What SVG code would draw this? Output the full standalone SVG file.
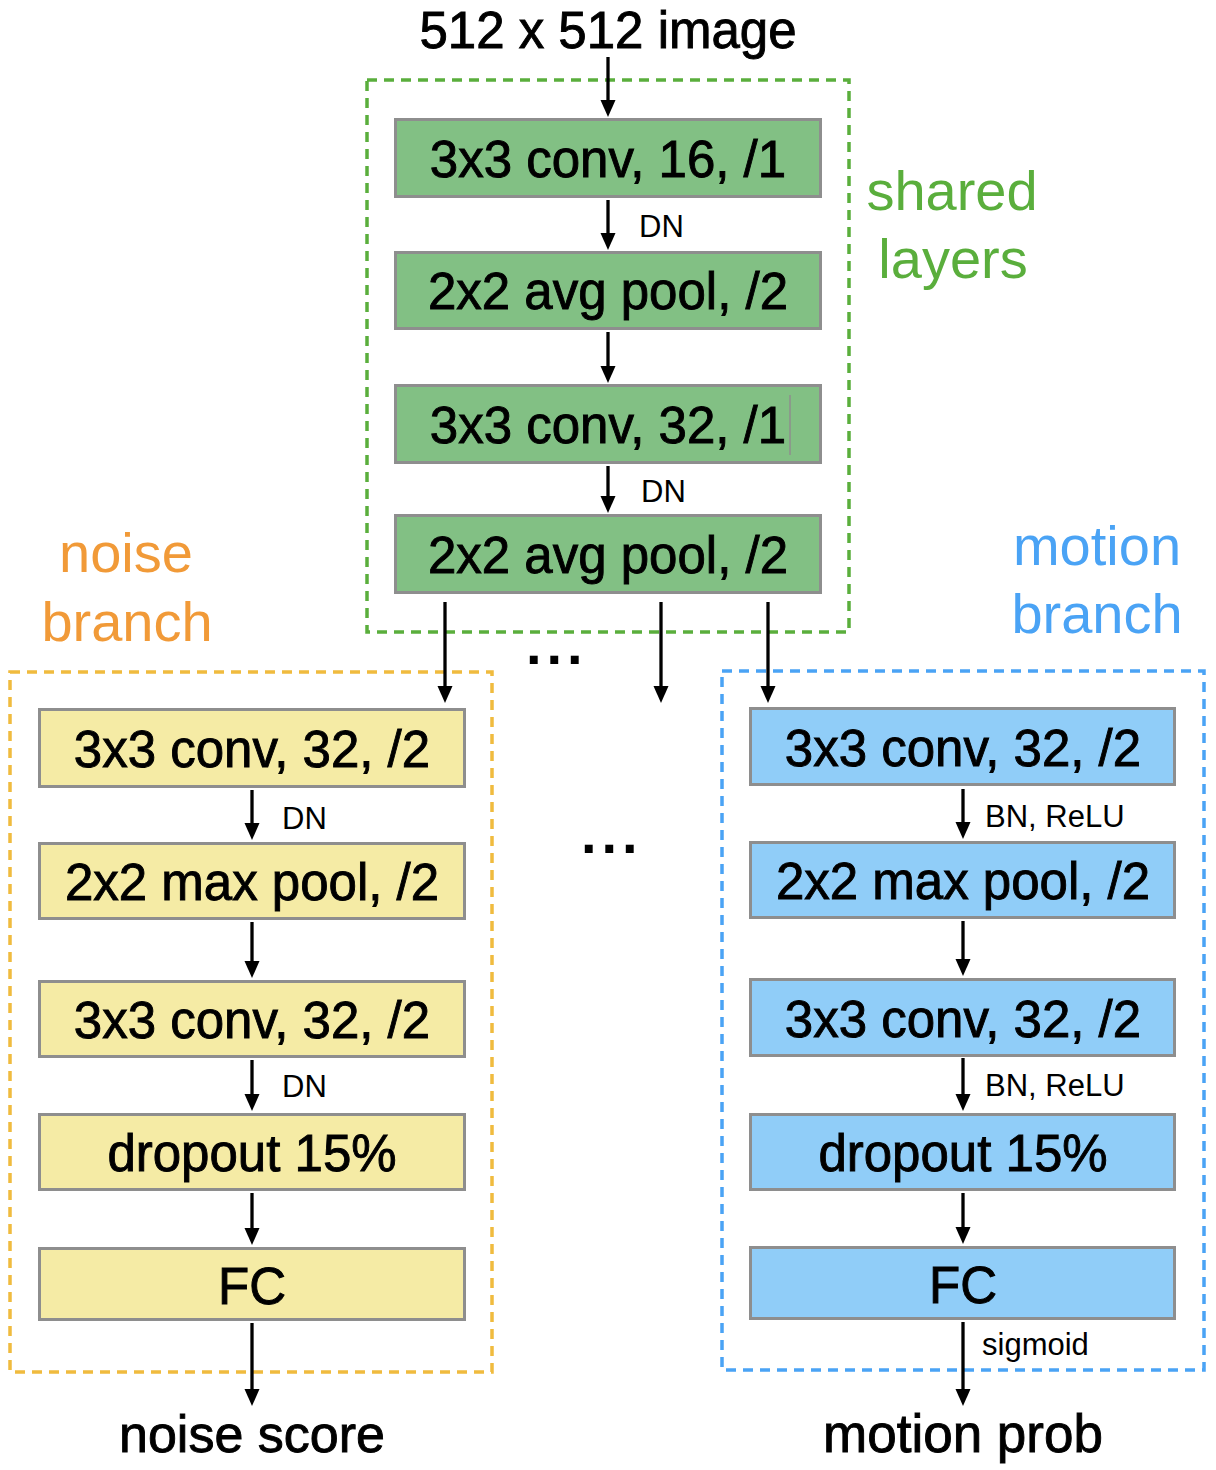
<svg xmlns="http://www.w3.org/2000/svg" width="1216" height="1470" viewBox="0 0 1216 1470">
<defs>
<marker id="arr" markerUnits="userSpaceOnUse" viewBox="0 -9 18 18" refX="6" refY="0" markerWidth="18" markerHeight="18" orient="auto">
<path d="M0,-7.5 L17,0 L0,7.5 z" fill="#000"/>
</marker>
<style>
text{font-family:"Liberation Sans",Arial,Helvetica,sans-serif}
.box{stroke:#8e8e8e;stroke-width:3}
.g{fill:#82c084}
.y{fill:#f5eba5}
.b{fill:#90cdf8}
.bt{font-size:51px;text-anchor:middle;fill:#000;stroke:#000;stroke-width:0.9}
.sm{font-size:31px;fill:#000}
.side{font-size:56px;text-anchor:middle}
.dash{fill:none;stroke-width:3.5;stroke-dasharray:10 7}
.con{stroke:#000;stroke-width:3.3;fill:none;marker-end:url(#arr)}
.dots{font-size:56px;font-weight:bold;letter-spacing:5px;fill:#000}
</style>
</defs>

<g id="groups">
<rect id="shared-group" class="dash" x="367" y="80" width="482" height="552" stroke="#5aae3c"/>
<rect id="noise-group" class="dash" x="10" y="672" width="482" height="700" stroke="#f0bb3e"/>
<rect id="motion-group" class="dash" x="722" y="671" width="482" height="699" stroke="#4aa3f5"/>
</g>

<g id="labels">
<text x="608" y="48" font-size="51" text-anchor="middle" stroke="#000" stroke-width="0.9">512 x 512 image</text>
<text class="side" x="952" y="210" fill="#5aae3c">shared</text>
<text class="side" x="953" y="278" fill="#5aae3c">layers</text>
<text class="side" x="126" y="572" fill="#f19a38">noise</text>
<text class="side" x="127" y="641" fill="#f19a38">branch</text>
<text class="side" x="1097" y="565" fill="#4aa3f5">motion</text>
<text class="side" x="1097" y="633" fill="#4aa3f5">branch</text>
<text class="dots" x="526" y="664">...</text>
<text class="dots" x="581" y="853">...</text>
<text x="252" y="1452" font-size="52" text-anchor="middle" stroke="#000" stroke-width="0.9">noise score</text>
<text x="963" y="1452" font-size="53" text-anchor="middle" stroke="#000" stroke-width="0.9">motion prob</text>
</g>

<g id="shared1"><rect class="box g" x="395.5" y="119.5" width="425" height="77"/><text class="bt" x="608" y="177">3x3 conv, 16, /1</text></g>
<g id="shared2"><rect class="box g" x="395.5" y="252.5" width="425" height="76"/><text class="bt" x="608" y="309">2x2 avg pool, /2</text></g>
<g id="shared3"><rect class="box g" x="395.5" y="385.5" width="425" height="77"/><text class="bt" x="608" y="443">3x3 conv, 32, /1</text><line x1="790" y1="395" x2="790" y2="455" stroke="#8e8e8e" stroke-width="1.5"/></g>
<g id="shared4"><rect class="box g" x="395.5" y="515.5" width="425" height="77"/><text class="bt" x="608" y="573">2x2 avg pool, /2</text></g>

<g id="noise1"><rect class="box y" x="39.5" y="709.5" width="425" height="77"/><text class="bt" x="252" y="767">3x3 conv, 32, /2</text></g>
<g id="noise2"><rect class="box y" x="39.5" y="843.5" width="425" height="75"/><text class="bt" x="252" y="900">2x2 max pool, /2</text></g>
<g id="noise3"><rect class="box y" x="39.5" y="981.5" width="425" height="75"/><text class="bt" x="252" y="1038">3x3 conv, 32, /2</text></g>
<g id="noise4"><rect class="box y" x="39.5" y="1114.5" width="425" height="75"/><text class="bt" x="252" y="1171">dropout 15%</text></g>
<g id="noise5"><rect class="box y" x="39.5" y="1248.5" width="425" height="71"/><text class="bt" x="252" y="1304">FC</text></g>

<g id="motion1"><rect class="box b" x="750.5" y="708.5" width="424" height="76"/><text class="bt" x="963" y="766">3x3 conv, 32, /2</text></g>
<g id="motion2"><rect class="box b" x="750.5" y="842.5" width="424" height="75"/><text class="bt" x="963" y="899">2x2 max pool, /2</text></g>
<g id="motion3"><rect class="box b" x="750.5" y="979.5" width="424" height="76"/><text class="bt" x="963" y="1037">3x3 conv, 32, /2</text></g>
<g id="motion4"><rect class="box b" x="750.5" y="1114.5" width="424" height="75"/><text class="bt" x="963" y="1171">dropout 15%</text></g>
<g id="motion5"><rect class="box b" x="750.5" y="1247.5" width="424" height="71"/><text class="bt" x="963" y="1303">FC</text></g>

<g id="connectors">
<line class="con" x1="608" y1="57" x2="608" y2="106"/>
<line class="con" x1="608" y1="200" x2="608" y2="239"/>
<text class="sm" x="639" y="237">DN</text>
<line class="con" x1="608" y1="332" x2="608" y2="372"/>
<line class="con" x1="608" y1="466" x2="608" y2="502"/>
<text class="sm" x="641" y="502">DN</text>
<line class="con" x1="445" y1="602" x2="445" y2="692"/>
<line class="con" x1="661" y1="602" x2="661" y2="692"/>
<line class="con" x1="768" y1="602" x2="768" y2="692"/>

<line class="con" x1="252" y1="790" x2="252" y2="829"/>
<text class="sm" x="282" y="829">DN</text>
<line class="con" x1="252" y1="922" x2="252" y2="967"/>
<line class="con" x1="252" y1="1060" x2="252" y2="1100"/>
<text class="sm" x="282" y="1097">DN</text>
<line class="con" x1="252" y1="1193" x2="252" y2="1234"/>
<line class="con" x1="252" y1="1323" x2="252" y2="1395"/>

<line class="con" x1="963" y1="789" x2="963" y2="828"/>
<text class="sm" x="985" y="827">BN, ReLU</text>
<line class="con" x1="963" y1="921" x2="963" y2="965"/>
<line class="con" x1="963" y1="1058" x2="963" y2="1100"/>
<text class="sm" x="985" y="1096">BN, ReLU</text>
<line class="con" x1="963" y1="1193" x2="963" y2="1233"/>
<line class="con" x1="963" y1="1322" x2="963" y2="1395"/>
<text class="sm" x="982" y="1355">sigmoid</text>
</g>
</svg>
